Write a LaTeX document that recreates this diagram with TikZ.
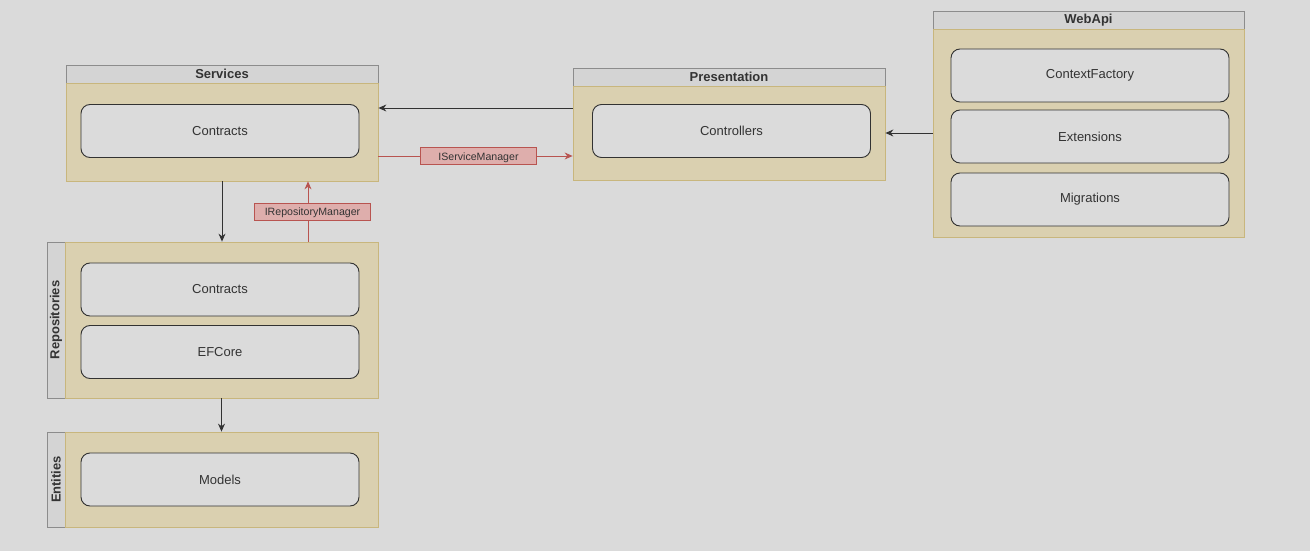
\documentclass[tikz,border=0pt]{standalone}
\usepackage{fontspec}
\setmainfont{Liberation Sans}
\usetikzlibrary{arrows.meta,positioning}

\definecolor{bgfill}{RGB}{218,218,218}
\definecolor{layerfill}{RGB}{218,208,176}
\definecolor{layerline}{RGB}{200,182,125}
\definecolor{headfill}{RGB}{212,212,212}
\definecolor{headline}{RGB}{140,140,140}
\definecolor{partfill}{RGB}{219,219,219}
\definecolor{partline}{RGB}{50,50,50}
\definecolor{ifacefill}{RGB}{222,174,172}
\definecolor{ifaceline}{RGB}{184,84,80}
\definecolor{textgray}{RGB}{51,51,51}

\begin{document}
\begin{tikzpicture}[x=1pt,y=-1pt]
		\tikzstyle{Layer}	= [rectangle, draw=layerline, line width=0.8pt, fill=layerfill, inner sep=0pt]
		\tikzstyle{Head}	= [rectangle, draw=headline, line width=0.8pt, fill=headfill, inner sep=0pt, text=textgray, font=\fontsize{13}{15}\selectfont\bfseries]
		\tikzstyle{Part}	= [rectangle, rounded corners=9pt, draw=partline, line width=0.9pt, fill=partfill, minimum width=278pt, minimum height=53pt, text=textgray, font=\fontsize{13}{15}\selectfont]
		\tikzstyle{Iface}	= [rectangle, draw=ifaceline, line width=0.8pt, fill=ifacefill, inner sep=0pt, minimum width=116pt, minimum height=17pt, text height=8.5pt, text depth=0pt, text=textgray, font=\fontsize{10.6}{12}\selectfont]
		\tikzstyle{Uses}	= [-{Stealth[length=8pt,width=7pt]}, draw=partline, line width=0.9pt]
		\tikzstyle{Gives}	= [-{Stealth[length=8pt,width=7pt]}, draw=ifaceline, line width=0.8pt]

		\fill [bgfill] (0,0) rectangle (1310,551);
		\useasboundingbox (0,0) rectangle (1310,551);

		% layers
		\node (srvHead) at (222,74) [Head, minimum width=312pt, minimum height=18pt] {Services};
		\node (srv) at (222,132) [Layer, minimum width=312pt, minimum height=98pt] {};
		\node (srvContracts) at (220,131) [Part] {Contracts};

		\node (presHead) at (729,77) [Head, minimum width=312pt, minimum height=18pt] {Presentation};
		\node (pres) at (729,133) [Layer, minimum width=312pt, minimum height=94pt] {};
		\node (presControllers) at (731.5,131) [Part] {Controllers};

		\node (webHead) at (1088.5,20) [Head, minimum width=311pt, minimum height=18pt] {WebApi};
		\node (web) at (1088.5,133) [Layer, minimum width=311pt, minimum height=208pt] {};
		\node (webFactory) at (1090,75.5) [Part] {ContextFactory};
		\node (webExtensions) at (1090,136.5) [Part] {Extensions};
		\node (webMigrations) at (1090,199.5) [Part] {Migrations};

		\node (repoHead) at (56,320) [Head, rotate=90, minimum width=156pt, minimum height=18pt] {Repositories};
		\node (repo) at (221.5,320) [Layer, minimum width=313pt, minimum height=156pt] {};
		\node (repoContracts) at (220,289.5) [Part] {Contracts};
		\node (repoEFCore) at (220,352) [Part] {EFCore};

		\node (entHead) at (56,479.5) [Head, rotate=90, minimum width=95pt, minimum height=18pt] {Entities};
		\node (ent) at (221.5,479.5) [Layer, minimum width=313pt, minimum height=95pt] {};
		\node (entModels) at (220,479.5) [Part] {Models};

		% dependencies
		\draw [Uses] ([yshift=25pt]pres.west) to ([yshift=25pt]pres.west -| srv.east);
		\draw [Uses] (web.west) to (pres.east);
		\draw [Uses] (srv.south) to (srv.south |- repo.north);
		\draw [Uses] (repo.south) to (repo.south |- ent.north);

		% interfaces
		\draw [Gives] ([yshift=-24pt]srv.east) to node (iSrvMgr) [Iface, xshift=3pt] {IServiceManager} ([yshift=-24pt]srv.east -| pres.west);
		\draw [Gives] ([xshift=86.5pt]repo.north) to node (iRepoMgr) [Iface, xshift=4.5pt] {IRepositoryManager} ([xshift=86.5pt]repo.north |- srv.south);
	\end{tikzpicture}
\end{document}
